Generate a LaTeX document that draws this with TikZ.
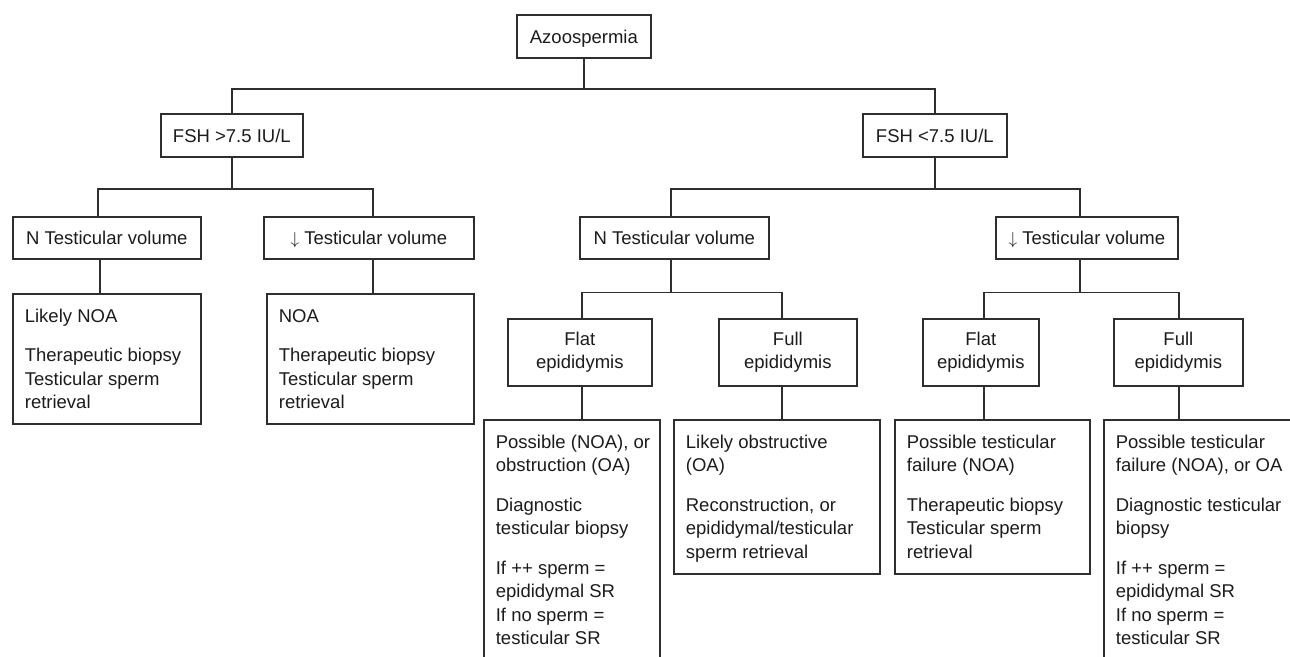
\documentclass[tikz,border=0pt]{standalone}
\usepackage{fontspec}
\setmainfont{Liberation Sans}
\usetikzlibrary{calc}
\definecolor{inkc}{HTML}{1C1C1C}
\definecolor{linec}{HTML}{2E2E2E}
\newcommand{\rbox}[3]{\begin{minipage}[t][#1][t]{#2}\raggedright\strut#3\end{minipage}}
\newcommand{\dnarrow}{$\downarrow$}
\begin{document}
\begin{tikzpicture}[x=1pt,y=-1pt,
  every node/.style={text=inkc, font=\fontsize{18.5}{23.5}\selectfont},
  cbox/.style={draw=linec, line width=1.7pt, anchor=north west, inner sep=0pt, align=center},
  one/.style={text height=16pt, text depth=2pt},
  rbx/.style={draw=linec, line width=1.7pt, anchor=north west, inner xsep=12pt, inner ysep=12pt},
  conn/.style={draw=linec, line width=1.7pt}]
\useasboundingbox (0,0) rectangle (1290,656);
\fill[white] (0,0) rectangle (1290,656);
\clip (0,0) rectangle (1290,656);

% level 0 and 1
\node[cbox,one,minimum width=134pt,minimum height=43pt] (azoo) at (516,14) {Azoospermia};
\node[cbox,one,minimum width=142pt,minimum height=43pt] (fshH) at (160,113) {FSH >7.5 IU/L};
\node[cbox,one,minimum width=144pt,minimum height=43pt] (fshL) at (862,113) {FSH <7.5 IU/L};

% level 2
\node[cbox,one,minimum width=188pt,minimum height=42pt] (nvL) at (12,216) {N Testicular volume};
\node[cbox,one,minimum width=210pt,minimum height=42pt] (dvL) at (263,216) {\dnarrow\ Testicular volume};
\node[cbox,one,minimum width=189pt,minimum height=42pt] (nvM) at (579,216) {N Testicular volume};
\node[cbox,one,minimum width=182pt,minimum height=42pt] (dvR) at (995,216) {\dnarrow\ Testicular volume};

% epididymis boxes
\node[cbox,minimum width=144pt,minimum height=67pt] (flatM) at (507,318) {Flat\\epididymis};
\node[cbox,minimum width=138pt,minimum height=67pt] (fullM) at (718,318) {Full\\epididymis};
\node[cbox,minimum width=116pt,minimum height=67pt] (flatR) at (922,318) {Flat\\epididymis};
\node[cbox,minimum width=129pt,minimum height=67pt] (fullR) at (1113,318) {Full\\epididymis};

% result boxes
\node[rbx] (likely) at (12,293) {\rbox{106pt}{164pt}{\mbox{Likely NOA}\\[16pt]\mbox{Therapeutic biopsy}\\\mbox{Testicular sperm}\\\mbox{retrieval}}};
\node[rbx] (noa) at (266,293) {\rbox{106pt}{183pt}{\mbox{NOA}\\[16pt]\mbox{Therapeutic biopsy}\\\mbox{Testicular sperm}\\\mbox{retrieval}}};
\node[rbx] (rFlatM) at (483,419) {\rbox{300pt}{152pt}{\mbox{Possible (NOA), or}\\\mbox{obstruction (OA)}\\[16pt]\mbox{Diagnostic}\\\mbox{testicular biopsy}\\[16pt]\mbox{If ++ sperm =}\\\mbox{epididymal SR}\\\mbox{If no sperm =}\\\mbox{testicular SR}}};
\node[rbx] (rFullM) at (673,419) {\rbox{130pt}{182pt}{\mbox{Likely obstructive}\\\mbox{(OA)}\\[16pt]\mbox{Reconstruction, or}\\\mbox{epididymal/testicular}\\\mbox{sperm retrieval}}};
\node[rbx] (rFlatR) at (894,419) {\rbox{130pt}{171pt}{\mbox{Possible testicular}\\\mbox{failure (NOA)}\\[16pt]\mbox{Therapeutic biopsy}\\\mbox{Testicular sperm}\\\mbox{retrieval}}};
\node[rbx] (rFullR) at (1103,419) {\rbox{300pt}{200pt}{\mbox{Possible testicular}\\\mbox{failure (NOA), or OA}\\[16pt]\mbox{Diagnostic testicular}\\\mbox{biopsy}\\[16pt]\mbox{If ++ sperm =}\\\mbox{epididymal SR}\\\mbox{If no sperm =}\\\mbox{testicular SR}}};

% branch levels
\coordinate (yA) at (0,89);
\coordinate (yB) at (0,189);
\coordinate (yC) at (0,292.5);

% connectors
\draw[conn] (azoo.south) -- (azoo.south |- yA);
\draw[conn] (fshH.north) |- (azoo.south |- yA) -| (fshL.north);

\draw[conn] (fshH.south) -- (fshH.south |- yB);
\draw[conn] ([xshift=-9pt]nvL.north) |- (fshH.south |- yB) -| ([xshift=4pt]dvL.north);
\draw[conn] (fshL.south) -- (fshL.south |- yB);
\draw[conn] ([xshift=-3.5pt]nvM.north) |- (fshL.south |- yB) -| ([xshift=-7pt]dvR.north);

\draw[conn] ([xshift=-7pt]nvL.south) -- ([xshift=-7pt]nvL.south |- likely.north);
\draw[conn] ([xshift=4pt]dvL.south) -- ([xshift=4pt]dvL.south |- noa.north);

\draw[conn] ([xshift=-3.5pt]nvM.south) -- ([xshift=-3.5pt]nvM.south |- yC);
\draw[conn] ([xshift=2pt]flatM.north) |- ([xshift=-3.5pt]nvM.south |- yC) -| ([xshift=-6pt]fullM.north);
\draw[conn] ([xshift=-7pt]dvR.south) -- ([xshift=-7pt]dvR.south |- yC);
\draw[conn] ([xshift=3pt]flatR.north) |- ([xshift=-7pt]dvR.south |- yC) -| ([xshift=0.5pt]fullR.north);

\draw[conn] ([xshift=2pt]flatM.south) -- ([xshift=2pt]flatM.south |- rFlatM.north);
\draw[conn] ([xshift=-6pt]fullM.south) -- ([xshift=-6pt]fullM.south |- rFullM.north);
\draw[conn] ([xshift=3pt]flatR.south) -- ([xshift=3pt]flatR.south |- rFlatR.north);
\draw[conn] ([xshift=0.5pt]fullR.south) -- ([xshift=0.5pt]fullR.south |- rFullR.north);
\end{tikzpicture}
\end{document}
